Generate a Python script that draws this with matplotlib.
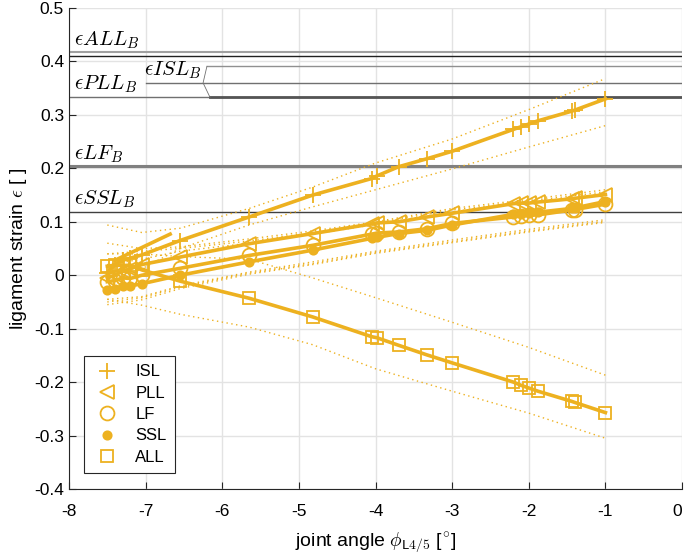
import matplotlib
matplotlib.use("Agg")
import matplotlib.pyplot as plt
from matplotlib.lines import Line2D

plt.rcParams['font.family'] = ['Liberation Sans Narrow', 'Liberation Sans', 'DejaVu Sans']
plt.rcParams['mathtext.fontset'] = 'cm'

# joint angle of each load case (deg)
ang = [-7.5, -7.4, -7.3, -7.2, -7.05, -6.55, -5.65, -4.82, -4.05, -3.98,
       -3.7, -3.33, -3.0, -2.2, -2.1, -2.0, -1.88, -1.44, -1.4, -1.0]

# mean ligament strains
isl = [0.005, 0.02, 0.028, 0.032, 0.038, 0.065, 0.109, 0.15, 0.181, 0.186,
       0.203, 0.218, 0.232, 0.273, 0.278, 0.283, 0.289, 0.307, 0.309, 0.33]
pll = [-0.005, 0.0, 0.008, 0.012, 0.02, 0.034, 0.059, 0.078, 0.096, 0.098,
       0.1, 0.109, 0.116, 0.134, 0.135, 0.135, 0.137, 0.143, 0.144, 0.151]
lf = [-0.012, -0.01, -0.005, -0.006, 0.0, 0.013, 0.037, 0.056, 0.077, 0.079,
      0.081, 0.087, 0.097, 0.109, 0.111, 0.112, 0.113, 0.122, 0.123, 0.133]
ssl = [-0.028, -0.025, -0.02, -0.02, -0.016, 0.0, 0.025, 0.047, 0.069, 0.071,
       0.078, 0.084, 0.094, 0.114, 0.115, 0.117, 0.118, 0.125, 0.126, 0.138]
all_ = [0.017, 0.019, 0.018, 0.019, 0.01, -0.011, -0.043, -0.078, -0.115, -0.117,
        -0.131, -0.149, -0.164, -0.2, -0.206, -0.211, -0.217, -0.236, -0.238, -0.257]

# short extra ISL branch near the start
isl_spur_x = [-7.4, -6.68]
isl_spur_y = [0.028, 0.077]

# upper / lower bounds (dotted)
bx = [-7.5, -7.05, -6.55, -5.65, -4.82, -4.0, -3.0, -2.0, -1.0]
isl_hi = [0.094, 0.08, 0.088, 0.125, 0.165, 0.21, 0.255, 0.31, 0.368]
isl_lo = [-0.005, 0.012, 0.05, 0.094, 0.128, 0.16, 0.199, 0.24, 0.28]
pll_hi = [0.06, 0.05, 0.053, 0.068, 0.083, 0.1, 0.125, 0.142, 0.16]
pll_lo = [-0.045, -0.04, -0.02, 0.006, 0.025, 0.045, 0.066, 0.086, 0.104]
lf_hi = [0.04, 0.045, 0.05, 0.064, 0.08, 0.098, 0.122, 0.139, 0.156]
lf_lo = [-0.05, -0.042, -0.022, 0.004, 0.022, 0.043, 0.063, 0.083, 0.101]
ssl_hi = [0.02, 0.03, 0.045, 0.06, 0.077, 0.095, 0.119, 0.136, 0.152]
ssl_lo = [-0.055, -0.046, -0.025, 0.002, 0.02, 0.041, 0.061, 0.081, 0.099]
all_hi = [0.04, 0.04, 0.035, 0.03, -0.005, -0.042, -0.088, -0.135, -0.187]
all_lo = [-0.045, -0.056, -0.073, -0.097, -0.13, -0.175, -0.217, -0.258, -0.305]

col = '#EDB120'

fig = plt.figure(figsize=(6.85, 5.56), dpi=100)
ax = fig.add_axes([0.1007, 0.1205, 0.895, 0.865])

# ligament failure strains
ax.plot([-8, 0], [0.417, 0.417], color='#a0a0a0', lw=1.5)
ax.plot([-8, 0], [0.411, 0.411], color='#202020', lw=1.0)
ax.plot([-6.2, 0], [0.391, 0.391], color='#909090', lw=1.0)
ax.plot([-7.0, 0], [0.36, 0.36], color='#707070', lw=1.0)
ax.plot([-8, 0], [0.333, 0.333], color='#707070', lw=1.0)
ax.plot([-6.16, 0], [0.333, 0.333], color='#555555', lw=2.0)
ax.plot([-6.2, -6.25, -6.16], [0.391, 0.36, 0.333], color='#707070', lw=0.6)
ax.plot([-8, 0], [0.205, 0.205], color='#808080', lw=1.5)
ax.plot([-8, 0], [0.202, 0.202], color='#808080', lw=1.5)
ax.plot([-8, 0], [0.119, 0.119], color='#404040', lw=1.0)

tkw = dict(fontsize=15, va='bottom', ha='left')
ax.text(-7.93, 0.419, r'$\epsilon ALL_B$', **tkw)
ax.text(-7.93, 0.337, r'$\epsilon PLL_B$', **tkw)
ax.text(-7.02, 0.363, r'$\epsilon ISL_B$', **tkw)
ax.text(-7.93, 0.207, r'$\epsilon LF_B$', **tkw)
ax.text(-7.93, 0.123, r'$\epsilon SSL_B$', **tkw)

# bounds
for hi, lo in [(isl_hi, isl_lo), (pll_hi, pll_lo), (lf_hi, lf_lo),
               (ssl_hi, ssl_lo), (all_hi, all_lo)]:
    ax.plot(bx, hi, color=col, lw=1.0, ls=(0, (1, 2.5)))
    ax.plot(bx, lo, color=col, lw=1.0, ls=(0, (1, 2.5)))

# mean curves
mkw = dict(color=col, lw=2.6, mew=1.3)
ax.plot(ang, isl, marker='+', ms=11, **mkw)
ax.plot(isl_spur_x, isl_spur_y, color=col, lw=2.6)
ax.plot(ang, pll, marker='<', ms=10, mfc='none', **mkw)
ax.plot(ang, lf, marker='o', ms=10, mfc='none', **mkw)
ax.plot(ang, ssl, marker='o', ms=6, mfc=col, **mkw)
ax.plot(ang, all_, marker='s', ms=8.5, mfc='none', **mkw)

ax.set_xlim(-8, 0)
ax.set_ylim(-0.4, 0.5)
ax.set_xticks(range(-8, 1))
ax.set_yticks([-0.4, -0.3, -0.2, -0.1, 0, 0.1, 0.2, 0.3, 0.4, 0.5])
ax.set_yticklabels(['-0.4', '-0.3', '-0.2', '-0.1', '0', '0.1', '0.2', '0.3', '0.4', '0.5'])
ax.set_xticklabels([str(v) for v in range(-8, 1)])
ax.get_xticklabels()[-1].set_horizontalalignment('right')
ax.grid(True, color='#e3e3e3', lw=1.0)
ax.set_axisbelow(True)
for s in ['top', 'right']:
    ax.spines[s].set_visible(False)
for s in ['left', 'bottom']:
    ax.spines[s].set_color('#262626')
    ax.spines[s].set_linewidth(0.8)
ax.tick_params(direction='in', length=5, width=0.8, colors='#262626', labelsize=12.5,
               labelcolor='black')
ax.tick_params(axis='x', pad=11)
ax.set_xlabel(r'joint angle $\phi_{\mathsf{L4/5}}$ [$^{\circ}$]', fontsize=14, labelpad=8)
ax.set_ylabel(r'ligament strain $\epsilon$ [ ]', fontsize=14)

handles = [
    Line2D([], [], color=col, ls='none', marker='+', ms=11, mew=1.3),
    Line2D([], [], color=col, ls='none', marker='<', ms=10, mfc='none', mew=1.3),
    Line2D([], [], color=col, ls='none', marker='o', ms=10, mfc='none', mew=1.3),
    Line2D([], [], color=col, ls='none', marker='o', ms=6, mfc=col, mew=1.3),
    Line2D([], [], color=col, ls='none', marker='s', ms=8.5, mfc='none', mew=1.3),
]
leg = ax.legend(handles, ['ISL', 'PLL', 'LF', 'SSL', 'ALL'], loc='lower left',
                bbox_to_anchor=(0.024, 0.033), borderaxespad=0, fontsize=12,
                fancybox=False, framealpha=1, edgecolor='#262626', borderpad=0.5,
                handletextpad=0.8, labelspacing=0.38, handlelength=1.8)
leg.get_frame().set_linewidth(0.8)

fig.savefig('out.png', dpi=100)
